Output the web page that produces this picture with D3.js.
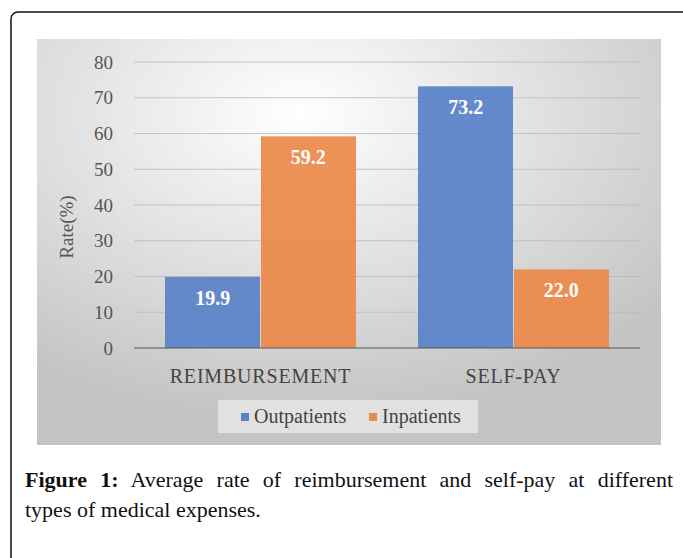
<!DOCTYPE html>
<html>
<head>
<meta charset="utf-8">
<script src="https://cdn.jsdelivr.net/npm/d3@7"></script>
<style>
  body { margin: 0; background: #fff; }
  #wrap { position: relative; width: 683px; height: 558px; overflow: hidden; }
  #caption {
    position: absolute; left: 25px; top: 465px; width: 648px;
    font-family: "Liberation Serif", serif;
    font-size: 22px; line-height: 30px; color: #111;
  }
  #caption .l1 { text-align: justify; text-align-last: justify; }
  #caption b { font-weight: bold; }
  svg text { font-family: "Liberation Serif", serif; }
</style>
</head>
<body>
<div id="wrap">
  <svg id="chart" width="683" height="558"></svg>
  <div id="caption"></div>
</div>
<script>
var categories = ["REIMBURSEMENT", "SELF-PAY"];
var seriesNames = ["Outpatients", "Inpatients"];
var outpatients = [19.9, 73.2];
var inpatients = [59.2, 22.0];
var yTicks = [0, 10, 20, 30, 40, 50, 60, 70, 80];
var colors = ["#5a82c9", "#eb8a4a"];

var series = [outpatients, inpatients];
var serif = "'Liberation Serif', serif";

var svg = d3.select("#chart");

// outer frame
svg.append("rect")
  .attr("x", 11).attr("y", 12)
  .attr("width", 700).attr("height", 600)
  .attr("rx", 7)
  .attr("fill", "none")
  .attr("stroke", "#111")
  .attr("stroke-width", 1.5);

// panel background
var defs = svg.append("defs");
var grad = defs.append("radialGradient")
  .attr("id", "bg")
  .attr("cx", "42%").attr("cy", "18%").attr("r", "75%");
grad.append("stop").attr("offset", "0%").attr("stop-color", "#ffffff");
grad.append("stop").attr("offset", "100%").attr("stop-color", "#c4c4c4");

svg.append("rect")
  .attr("x", 37).attr("y", 39)
  .attr("width", 624).attr("height", 406)
  .attr("fill", "url(#bg)");

var plot = { left: 134, right: 640, top: 62, bottom: 348 };

var x0 = d3.scaleBand()
  .domain(categories)
  .range([plot.left, plot.right])
  .paddingInner(0.245)
  .paddingOuter(0.1225);

var x1 = d3.scaleBand()
  .domain(seriesNames)
  .range([0, x0.bandwidth()]);

var y = d3.scaleLinear()
  .domain([0, 80])
  .range([plot.bottom, plot.top]);

// gridlines
svg.append("g")
  .selectAll("line")
  .data(yTicks.slice(1))
  .enter()
  .append("line")
  .attr("x1", plot.left).attr("x2", plot.right)
  .attr("y1", function(d){ return y(d); })
  .attr("y2", function(d){ return y(d); })
  .attr("stroke", "#b9b9b9")
  .attr("stroke-opacity", 0.8)
  .attr("stroke-width", 1);

// y tick labels
var yaxis = d3.axisLeft(y).tickValues(yTicks).tickSize(0).tickPadding(0);
var gy = svg.append("g")
  .attr("transform", "translate(" + 113 + ",0)")
  .call(yaxis);
gy.attr("font-family", null);
gy.select(".domain").remove();
gy.selectAll("text")
  .style("font-family", serif)
  .attr("font-size", 19)
  .attr("fill", "#555");

// y title
svg.append("text")
  .attr("transform", "translate(73,227) rotate(-90)")
  .attr("text-anchor", "middle")
  .style("font-family", serif)
  .attr("font-size", 19)
  .attr("fill", "#555")
  .text("Rate(%)");

// bars
var groups = svg.append("g")
  .selectAll("g")
  .data(categories)
  .enter()
  .append("g")
  .attr("transform", function(d){ return "translate(" + x0(d) + ",0)"; });

groups.selectAll("rect")
  .data(function(d, i){ return seriesNames.map(function(s, j){ return { s: s, v: series[j][i], j: j }; }); })
  .enter()
  .append("rect")
  .attr("x", function(d){ return x1(d.s) + (d.j === 1 ? 0.5 : 0); })
  .attr("width", function(d){ return x1.bandwidth() - 0.5; })
  .attr("y", function(d){ return y(d.v); })
  .attr("height", function(d){ return y(0) - y(d.v); })
  .attr("fill", function(d){ return colors[d.j]; })
  .attr("fill-opacity", 0.93);

// value labels
groups.selectAll("text")
  .data(function(d, i){ return seriesNames.map(function(s, j){ return { s: s, v: series[j][i], j: j }; }); })
  .enter()
  .append("text")
  .attr("x", function(d){ return x1(d.s) + x1.bandwidth() / 2; })
  .attr("y", function(d){ return y(d.v) + 28; })
  .attr("text-anchor", "middle")
  .style("font-family", serif)
  .attr("font-weight", "bold")
  .attr("font-size", 20)
  .attr("fill", "#fff")
  .text(function(d){ return d.v.toFixed(1); });

// x axis
var xaxis = d3.axisBottom(x0).tickSize(0).tickPadding(21);
var gx = svg.append("g")
  .attr("transform", "translate(0," + plot.bottom + ")")
  .call(xaxis);
gx.attr("font-family", null);
gx.select(".domain").remove();
gx.selectAll("text")
  .style("font-family", serif)
  .attr("font-size", 20)
  .attr("letter-spacing", 0.8)
  .attr("fill", "#444");
svg.append("line")
  .attr("x1", plot.left).attr("x2", plot.right)
  .attr("y1", y(0)).attr("y2", y(0))
  .attr("stroke", "#595959")
  .attr("stroke-width", 1.2);

// legend
var legend = svg.append("g");
legend.append("rect")
  .attr("x", 218).attr("y", 400)
  .attr("width", 260).attr("height", 33)
  .attr("fill", "#e6e6e6")
  .attr("fill-opacity", 0.85);
var legendX = [241, 369];
var items = legend.selectAll("g.item")
  .data(seriesNames)
  .enter()
  .append("g")
  .attr("class", "item")
  .attr("transform", function(d, i){ return "translate(" + legendX[i] + ",0)"; });
items.append("rect")
  .attr("x", 0).attr("y", 413)
  .attr("width", 8).attr("height", 8)
  .attr("fill", function(d, i){ return colors[i]; });
items.append("text")
  .attr("x", 13).attr("y", 423)
  .style("font-family", serif)
  .attr("font-size", 20)
  .attr("fill", "#444")
  .text(function(d){ return d; });

// caption
var cap = d3.select("#caption");
var l1 = cap.append("div").attr("class", "l1");
l1.append("b").text("Figure 1:");
l1.append("span").text(" Average rate of reimbursement and self-pay at different");
cap.append("div").text("types of medical expenses.");
</script>
</body>
</html>
